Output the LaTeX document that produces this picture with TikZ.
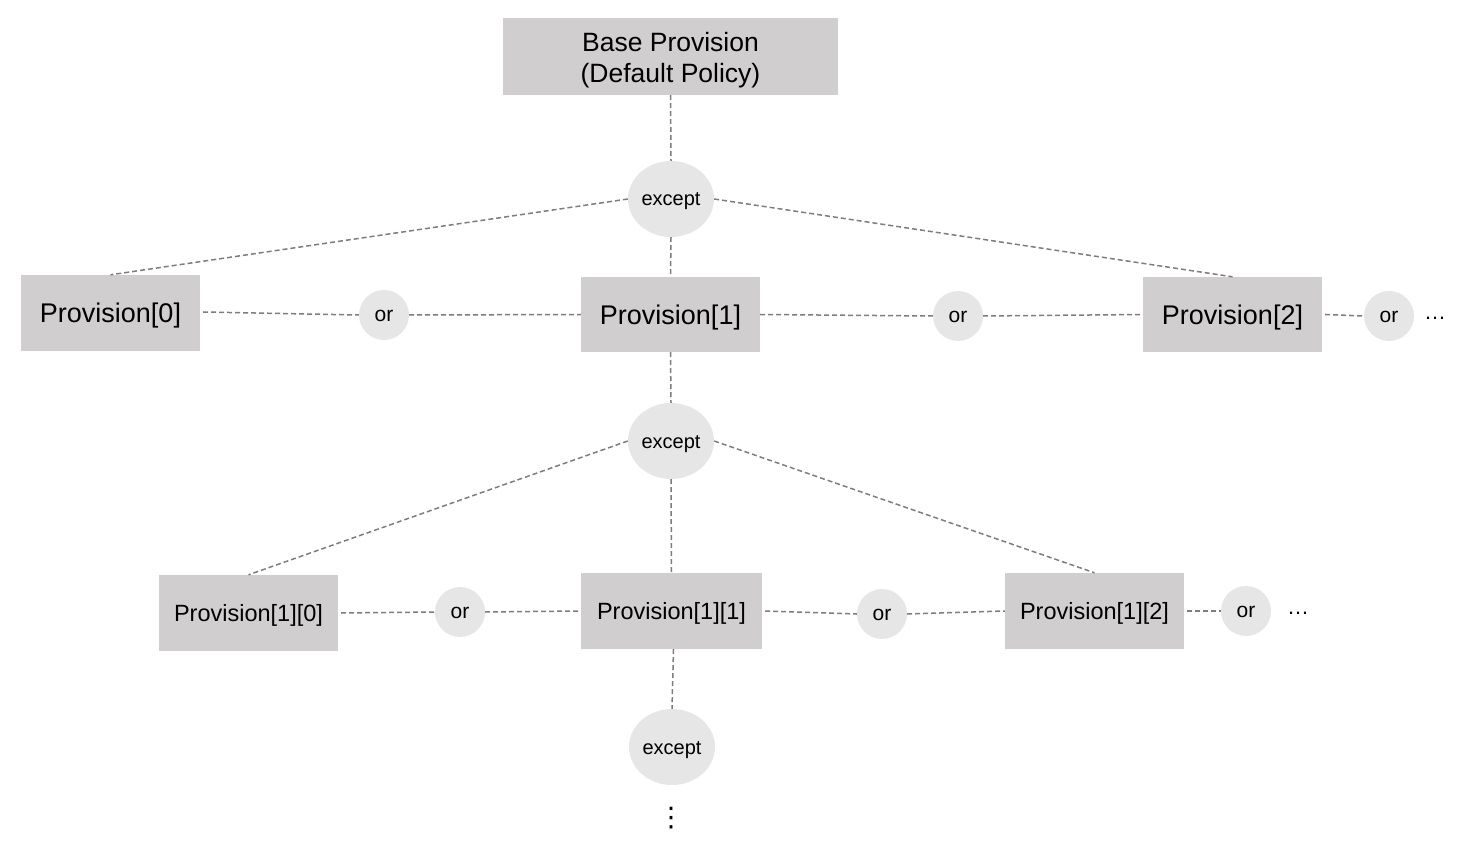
\documentclass[tikz,border=0pt]{standalone}
\usepackage{fontspec}
\setmainfont{Liberation Sans}
\newfontfamily\dejavu{DejaVu Sans}
\usetikzlibrary{shapes.geometric}
\definecolor{boxfill}{RGB}{208,206,207}
\definecolor{opfill}{RGB}{230,230,230}
\definecolor{linegray}{RGB}{125,125,125}
\begin{document}
\begin{tikzpicture}[x=1pt,y=-1pt,
  box/.style={fill=boxfill,draw=none,inner sep=0pt,minimum width=179pt,minimum height=76pt,text depth=0pt},
  bigtxt/.style={font=\fontsize{27}{31}\selectfont,text height=19.3pt},
  midtxt/.style={font=\fontsize{23.5}{28}\selectfont,text height=16.8pt},
  orop/.style={circle,fill=opfill,draw=none,inner sep=0pt,minimum size=50pt,font=\fontsize{21}{24}\selectfont,text height=12.9pt,text depth=0pt},
  exop/.style={ellipse,fill=opfill,draw=none,inner sep=0pt,minimum width=86pt,minimum height=76pt,font=\fontsize{20}{24}\selectfont,text height=14pt,text depth=0pt},
  link/.style={draw=linegray,line width=1.5pt,dash pattern=on 5pt off 3pt},
  dotstxt/.style={font=\fontsize{22}{24}\selectfont,text height=0pt,text depth=0pt,inner sep=0pt}
]
\useasboundingbox (0,0) rectangle (1460,842);

% nodes
\node[fill=boxfill,inner sep=0pt,minimum width=335pt,minimum height=77pt] (base) at (670.5,56.5) {};
\node[font=\fontsize{26.5}{30.6}\selectfont,align=center,inner sep=0pt] (basetxt) at (670.5,60) {Base Provision\\(Default Policy)};
\node[exop] (e1) at (671,199) {except};

\node[box,bigtxt] (p0) at (110.5,313) {Provision[0]};
\node[orop] (o1) at (384,315) {or};
\node[box,bigtxt,minimum height=75pt] (p1) at (670.5,314.5) {Provision[1]};
\node[orop] (o2) at (958,316) {or};
\node[box,bigtxt,minimum height=75pt] (p2) at (1232.5,314.5) {Provision[2]};
\node[orop] (o3) at (1389,316) {or};
\node[dotstxt] (d1) at (1435,319.5) {…};

\node[exop] (e2) at (671,441) {except};

\node[box,midtxt] (p10) at (248.5,613) {Provision[1][0]};
\node[orop] (o4) at (460,612) {or};
\node[box,midtxt,minimum width=181pt] (p11) at (671.5,611) {Provision[1][1]};
\node[orop] (o5) at (882,614) {or};
\node[box,midtxt] (p12) at (1094.5,611) {Provision[1][2]};
\node[orop] (o6) at (1246,611) {or};
\node[dotstxt] (d2) at (1298,614.5) {…};

\node[exop] (e3) at (672,747) {except};
\node[font=\dejavu\fontsize{27}{30}\selectfont] (vd) at (671,818) {⋮};

% connectors
\draw[link] (base.south) -- (e1.north);
\draw[link] (e1.west) -- (p0.north);
\draw[link] (e1.east) -- (p2.north);
\draw[link] (e1.south) -- (p1.north);
\draw[link] ([xshift=3pt,yshift=1pt]p0.east) -- (o1.west);
\draw[link] (o1.east) -- (p1.west);
\draw[link] (p1.east) -- (o2.west);
\draw[link] (o2.east) -- (p2.west);
\draw[link] ([xshift=3pt]p2.east) -- (o3.west);

\draw[link] (p1.south) -- (e2.north);
\draw[link] (e2.west) -- (p10.north);
\draw[link] (e2.east) -- (p12.north);
\draw[link] (e2.south) -- (p11.north);
\draw[link] ([xshift=3pt]p10.east) -- (o4.west);
\draw[link] (o4.east) -- (p11.west);
\draw[link] ([xshift=3pt]p11.east) -- (o5.west);
\draw[link] (o5.east) -- (p12.west);
\draw[link] ([xshift=3pt]p12.east) -- (o6.west);

\draw[link] ([xshift=2pt]p11.south) -- (e3.north);
\end{tikzpicture}
\end{document}
